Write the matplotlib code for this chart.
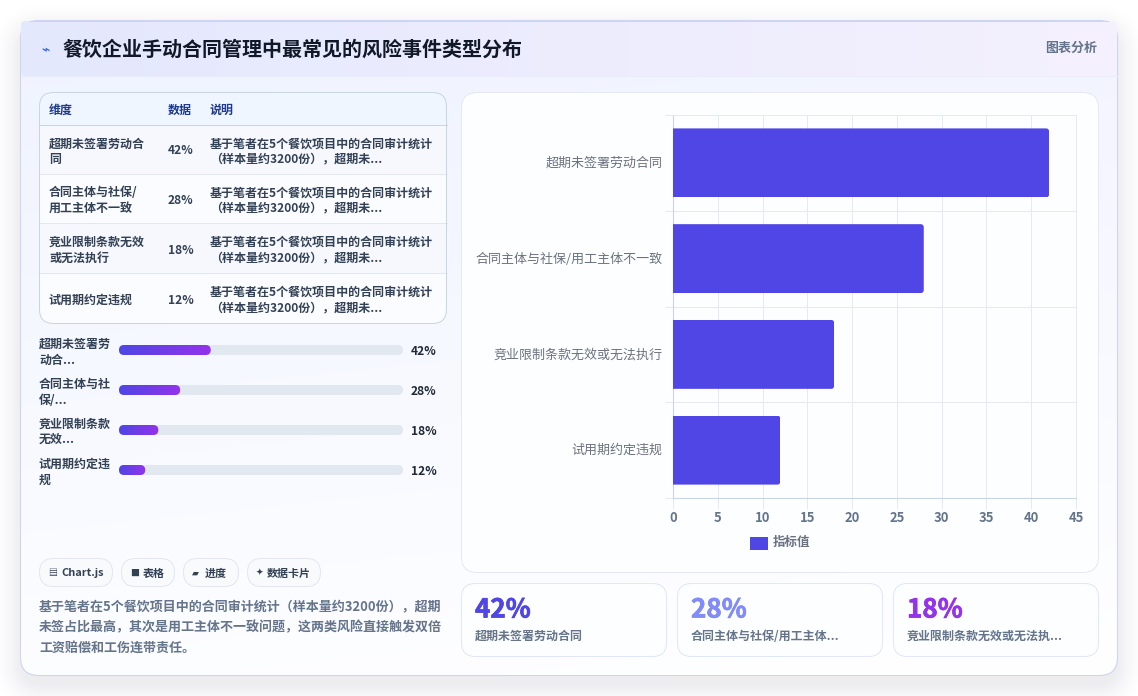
import numpy as np
import matplotlib
matplotlib.use("Agg")
import matplotlib.pyplot as plt
import matplotlib.patheffects as pe
from matplotlib.patches import FancyBboxPatch, Rectangle
from matplotlib.transforms import IdentityTransform, ScaledTranslation

FONT = ['Noto Sans CJK SC', 'DejaVu Sans']
plt.rcParams['font.family'] = FONT

# Chart data
categories = ['超期未签署劳动合同', '合同主体与社保/用工主体不一致', '竞业限制条款无效或无法执行', '试用期约定违规']
values = [42, 28, 18, 12]
x_ticks = [0, 5, 10, 15, 20, 25, 30, 35, 40, 45]
legend_label = '指标值'
title = '餐饮企业手动合同管理中最常见的风险事件类型分布'
header_tag = '图表分析'

# Table contents
table_head = ['维度', '数据', '说明']
table_dims = [['超期未签署劳动合', '同'], ['合同主体与社保/', '用工主体不一致'], ['竞业限制条款无效', '或无法执行'], ['试用期约定违规']]
table_vals = ['42%', '28%', '18%', '12%']
table_desc = ['基于笔者在5个餐饮项目中的合同审计统计', '（样本量约3200份），超期未...']

# Progress rows
progress_labels = [['超期未签署劳', '动合...'], ['合同主体与社', '保/...'], ['竞业限制条款', '无效...'], ['试用期约定违', '规']]
progress_scale = 130

# Pills, note and KPI cards
pills = [('▤', 'Chart.js'), ('■', '表格'), ('▰', '进度'), ('✦', '数据卡片')]
note_lines = ['基于笔者在5个餐饮项目中的合同审计统计（样本量约3200份），超期',
              '未签占比最高，其次是用工主体不一致问题，这两类风险直接触发双倍',
              '工资赔偿和工伤连带责任。']
kpi_values = ['42%', '28%', '18%']
kpi_labels = ['超期未签署劳动合同', '合同主体与社保/用工主体...', '竞业限制条款无效或无法执...']
kpi_colors = ['#4f46e5', '#818cf8', '#9333ea']

W, H = 1138, 696
BODY = '#334155'
fig = plt.figure(figsize=(W / 100, H / 100), dpi=100, facecolor='white')
page = fig.add_axes([0, 0, 1, 1])
page.set_xlim(0, W)
page.set_ylim(H, 0)
page.axis('off')


def px(size):
    return size * 0.72


def rounded(x0, y0, x1, y1, r, fc='none', ec='none', lw=0.0, z=2):
    patch = FancyBboxPatch((x0 + r, y0 + r), x1 - x0 - 2 * r, y1 - y0 - 2 * r,
                           boxstyle=f'round,pad={r},rounding_size={r}',
                           fc=fc, ec=ec, lw=lw, zorder=z)
    page.add_patch(patch)
    return patch


def gradient(x0, y0, x1, y1, c_a, c_b, clip=None, z=1, weight_x=1.0, weight_y=0.0):
    n = 160
    u, v = np.meshgrid(np.linspace(0, 1, n), np.linspace(0, 1, n))
    t = u * weight_x + v * weight_y
    a = np.array(matplotlib.colors.to_rgb(c_a))
    b = np.array(matplotlib.colors.to_rgb(c_b))
    img = a[None, None, :] * (1 - t[..., None]) + b[None, None, :] * t[..., None]
    im = page.imshow(img, extent=(x0, x1, y1, y0), aspect='auto', zorder=z, interpolation='bilinear')
    if clip is not None:
        im.set_clip_path(clip)
    page.set_xlim(0, W)
    page.set_ylim(H, 0)
    return im


def label(x, y, s, size, color, weight='normal', ha='left', z=6, stroke=0.0):
    t = page.text(x, y, s, fontsize=px(size), color=color, fontweight=weight,
                  ha=ha, va='center', zorder=z, family=FONT)
    if stroke:
        t.set_path_effects([pe.withStroke(linewidth=stroke, foreground=color)])
    return t


# Soft drop shadow under the card
yy, xx = np.mgrid[0:H, 0:W]
cx, cy = (21 + 1117) / 2, (21 + 675) / 2 + 10
qx = np.abs(xx + 0.5 - cx) - (1117 - 21) / 2 + 18
qy = np.abs(yy + 0.5 - cy) - (675 - 21) / 2 + 18
dist = np.hypot(np.maximum(qx, 0), np.maximum(qy, 0)) + np.minimum(np.maximum(qx, qy), 0) - 18
alpha = 0.08 * np.clip(1 - dist / 34, 0, 1) ** 2
shadow = np.zeros((H, W, 4))
shadow[..., :3] = matplotlib.colors.to_rgb('#1e1b4b')
shadow[..., 3] = alpha
page.imshow(shadow, extent=(0, W, H, 0), aspect='auto', zorder=0)
page.set_xlim(0, W)
page.set_ylim(H, 0)

# Card body, border and header band (the band keeps its corners nearly square)
card = rounded(21, 21, 1117, 675, 18, fc='none', ec='none', z=1)
gradient(21, 21, 1117, 675, '#eff3ff', '#ffffff', clip=card, z=1, weight_x=0.15, weight_y=0.85)
rounded(20.5, 20.5, 1117.5, 675.5, 18, ec='#cdd5f3', lw=0.75, z=1.05)
header_clip = rounded(21, 21, 1117, 76, 4, fc='none', z=1)
gradient(21, 21, 1117, 76, '#e4e8fd', '#f5f1fe', clip=header_clip, z=1.1)
page.plot([30, 1108], [20.5, 20.5], color='#cdd5f3', lw=0.75, zorder=1.2)
page.plot([21, 1117], [76, 76], color='#e8ebf8', lw=0.72, zorder=1.2)

label(41, 50, '⌁', 14, '#2563eb', 'bold')
label(63, 49, title, 20, '#111827', 'bold')
label(1097, 48, header_tag, 13, '#64748b', 'bold', ha='right')

# Table panel
table_clip = rounded(39, 92, 447, 323, 14, fc='#f8faff', z=2)
row_edges = [125, 174, 223, 273, 323]
row_fill = ['#f6f8fe', '#fbfcff', '#f6f8fe', '#fbfcff']
head_bg = Rectangle((39, 92), 408, 33, fc='#eff6ff', ec='none', zorder=2.1)
page.add_patch(head_bg)
head_bg.set_clip_path(table_clip)
for i, fill in enumerate(row_fill):
    band = Rectangle((39, row_edges[i]), 408, row_edges[i + 1] - row_edges[i], fc=fill, ec='none', zorder=2.1)
    page.add_patch(band)
    band.set_clip_path(table_clip)
page.plot([39, 447], [125, 125], color='#cbd5e1', lw=0.72, zorder=2.2)
for edge in row_edges[1:-1]:
    page.plot([39, 447], [edge, edge], color='#e2e8f0', lw=0.72, zorder=2.2)
rounded(39.5, 92.5, 446.5, 323.5, 14, ec='#cbd5e1', lw=0.72, z=2.3)

for x, s in zip([49, 168, 210], table_head):
    label(x, 110.5, s, 12, '#1e3a8a', 'bold')
dim_y = [(144, 159), (193, 208), (242, 258), (300,)]
val_y = [151, 200, 250, 300]
desc_y = [(144, 159), (193, 208), (242, 258), (292, 308)]
for i in range(4):
    for y, s in zip(dim_y[i], table_dims[i]):
        label(49 if s[0] != '试' else 48, y, s, 12, BODY, 'bold')
    label(168, val_y[i], table_vals[i], 12, BODY, 'bold')
    for y, s in zip(desc_y[i], table_desc):
        label(210, y, s, 12, BODY, 'bold')

# Progress rows
track_x0, track_x1 = 119, 403
bar_y = [350, 390, 430, 470]
line_y = [(344, 360), (384, 400), (424, 439), (464, 480)]
for i, v in enumerate(values):
    for y, s in zip(line_y[i], progress_labels[i]):
        label(39 if s[0] != '试' else 38, y, s, 12, BODY, 'bold')
    rounded(track_x0, bar_y[i] - 5, track_x1, bar_y[i] + 5, 5, fc='#e2e8f0', z=2)
    end = track_x0 + (track_x1 - track_x0) * v / progress_scale
    clip = rounded(track_x0, bar_y[i] - 5, end, bar_y[i] + 5, 5, fc='none', z=2.1)
    gradient(track_x0, bar_y[i] - 5, end, bar_y[i] + 5, '#4f46e5', '#9333ea', clip=clip, z=2.2)
    label(411, bar_y[i] + 1.5, f'{v}%', 12, '#1f2937', 'bold')

# Pills
pill_x = [(39, 113), (121, 175), (183, 239), (247, 321)]
text_dx = [22, 22, 22, 20]
for (x0, x1), dx, (icon, text) in zip(pill_x, text_dx, pills):
    rounded(x0 + 0.5, 558.5, x1 - 0.5, 586.5, 14, fc='#f8fafc', ec='#e2e8f0', lw=0.72, z=2)
    label(x0 + 9, 573, icon, 9, BODY, 'bold')
    label(x0 + dx, 573.5, text, 11, BODY, 'bold')

for y, s in zip([607.5, 627.5, 647.5], note_lines):
    label(39, y, s, 13, '#64748b', 'bold')

# KPI cards
kpi_x = [(461, 667), (677, 883), (893, 1099)]
for (x0, x1), v, s, c in zip(kpi_x, kpi_values, kpi_labels, kpi_colors):
    rounded(x0 + 0.5, 583.5, x1 - 0.5, 656.5, 14, fc='#fdfeff', ec='#e0e7f8', lw=0.72, z=2)
    label(x0 + 14, 610, v, 26, c, 'bold', stroke=0.5)
    label(x0 + 14, 636.5, s, 12, '#64748b', 'bold')

# Chart panel and bar chart
rounded(461.5, 92.5, 1098.5, 572.5, 16, fc='#fdfeff', ec='#e4e9f4', lw=0.72, z=2)
ax = fig.add_axes([673 / W, 1 - 498 / H, (1076 - 673) / W, (498 - 115) / H], zorder=3)
ax.patch.set_alpha(0)
positions = np.arange(len(categories))
bars = ax.barh(positions, values, height=0.72, color='#4f46e5', zorder=3)
ax.set_xlim(0, 45)
ax.set_ylim(3.5, -0.5)
ax.set_xticks(x_ticks)
ax.set_yticks(positions, categories)
ax.set_yticks(np.arange(-0.5, 4), minor=True)
ax.grid(True, axis='x', color='#e5eaf1', lw=0.72, zorder=0)
ax.grid(True, axis='y', which='minor', color='#e5eaf1', lw=0.72, zorder=0)
ax.tick_params(axis='x', length=8, width=0.72, color='#e5eaf1', labelsize=px(13), labelcolor='#64748b', pad=1)
ax.tick_params(axis='y', which='major', length=0, labelsize=px(13), labelcolor='#6b7280', pad=7.5)
ax.tick_params(axis='y', which='minor', length=6, width=0.72, color='#e5eaf1')
for t in ax.get_xticklabels():
    t.set_fontweight('bold')
nudge = ScaledTranslation(0, 1 / 100, fig.dpi_scale_trans)
for t in ax.get_yticklabels():
    t.set_transform(t.get_transform() + nudge)
for side in ('top', 'right'):
    ax.spines[side].set_color('#e5eaf1')
    ax.spines[side].set_linewidth(0.72)
for side in ('left', 'bottom'):
    ax.spines[side].set_color('#cbd5e1')
    ax.spines[side].set_linewidth(0.8)

# Round the outer corners of each bar
fig.canvas.draw()
for bar in bars:
    (x0, y0), (x1, y1) = ax.transData.transform(bar.get_bbox().get_points())
    lo, hi = min(y0, y1), max(y0, y1)
    r = 3
    mask = FancyBboxPatch((x0 - 10 + r, lo + r), x1 - x0 + 10 - 2 * r, hi - lo - 2 * r,
                          boxstyle=f'round,pad={r},rounding_size={r}', transform=IdentityTransform())
    bar.set_clip_path(mask)

page.add_patch(Rectangle((750, 537), 18, 13, fc='#4f46e5', ec='none', zorder=6))
label(773, 542.5, legend_label, 12.5, '#6b7280', 'bold')

fig.savefig('out.png', dpi=100, facecolor='white')
